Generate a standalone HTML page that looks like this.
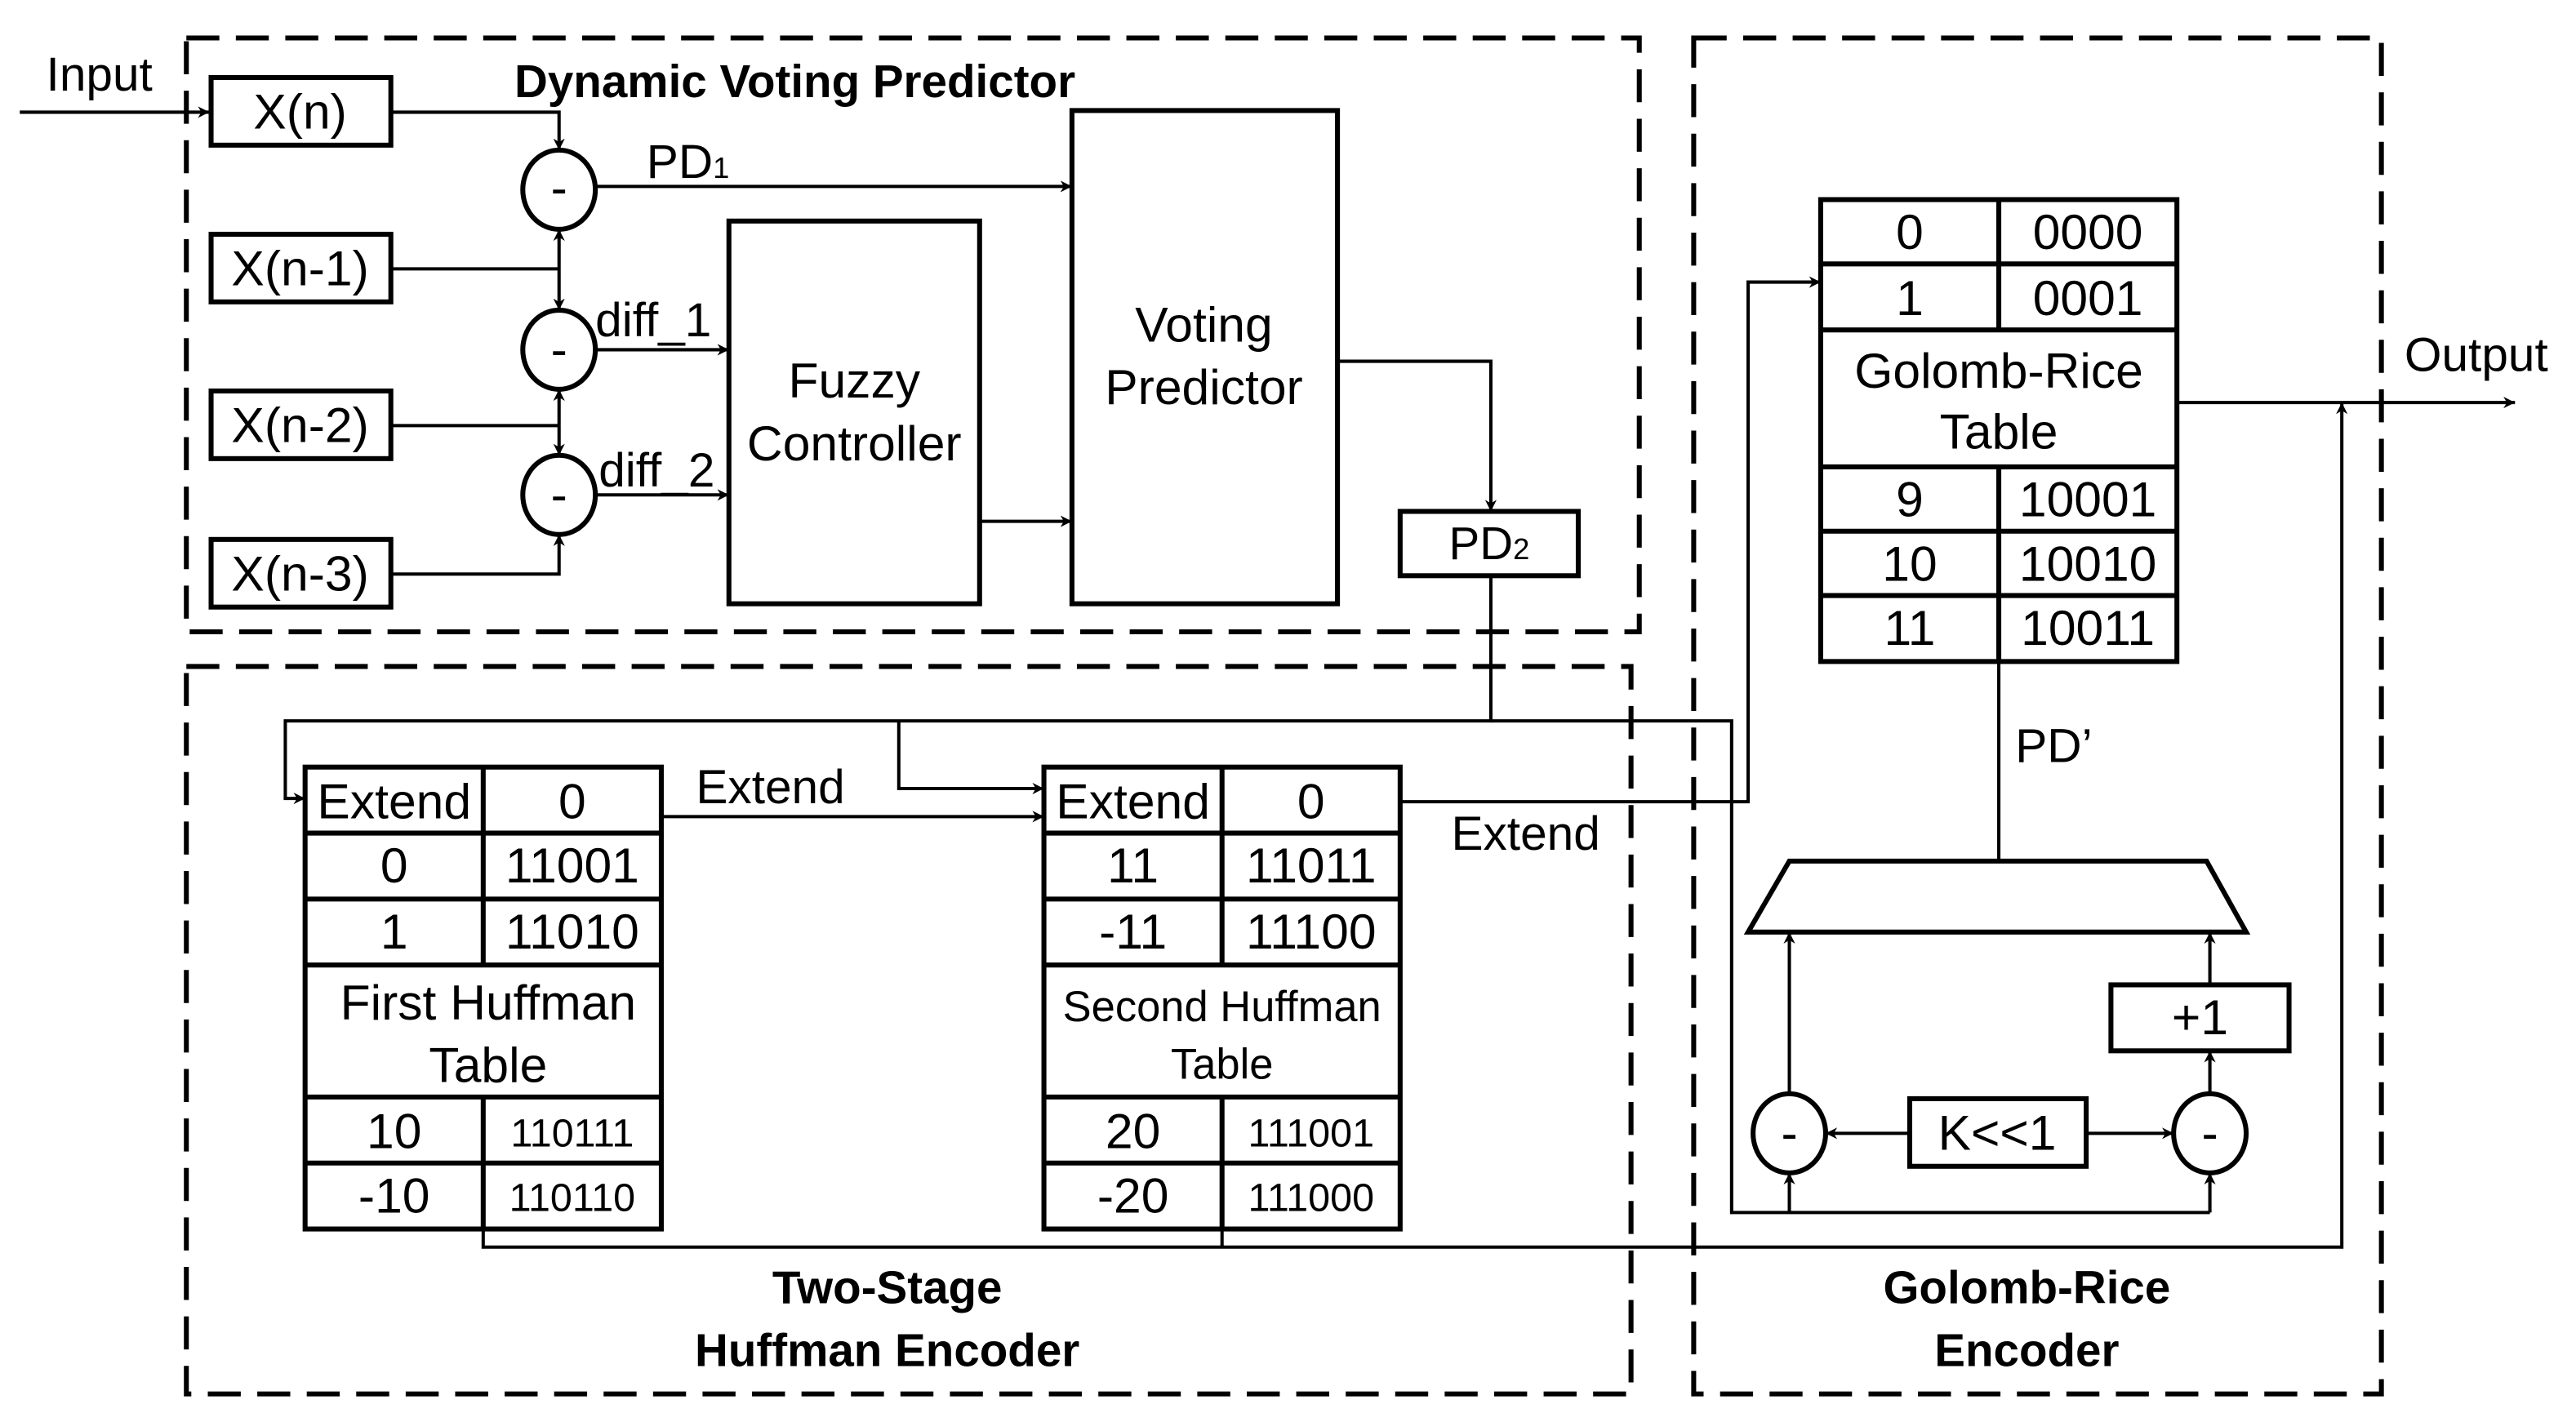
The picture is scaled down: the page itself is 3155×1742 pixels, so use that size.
<!DOCTYPE html>
<html><head><meta charset="utf-8"><style>
html,body{margin:0;padding:0;background:#fff;}
svg{display:block;}
text{font-family:"Liberation Sans",Arial,sans-serif;fill:#000;}
</style></head><body>
<svg width="3155" height="1742" viewBox="0 0 1562 862" preserveAspectRatio="none" xmlns="http://www.w3.org/2000/svg">
<defs>
<marker id="a" viewBox="0 0 10 10" refX="10" refY="5" markerWidth="7" markerHeight="7" markerUnits="userSpaceOnUse" orient="auto"><path d="M0,0 L10,5 L0,10 L3,5 z" fill="#000"/></marker>
</defs>
<!-- dashed regions -->
<g fill="none" stroke="#000" stroke-width="3" stroke-dasharray="20 10">
<rect x="113" y="23" width="881" height="360"/>
<rect x="113" y="404" width="876" height="441"/>
<rect x="1027" y="23" width="417" height="822"/>
</g>
<g font-size="28" font-weight="bold" text-anchor="middle">
<text x="482" y="59">Dynamic Voting Predictor</text>
<text x="538" y="790">Two-Stage</text>
<text x="538" y="828">Huffman Encoder</text>
<text x="1229" y="790">Golomb-Rice</text>
<text x="1229" y="828">Encoder</text>
</g>
<!-- solid boxes -->
<g fill="none" stroke="#000" stroke-width="3">
<rect x="128" y="47" width="109" height="41"/>
<rect x="128" y="142" width="109" height="41"/>
<rect x="128" y="237" width="109" height="41"/>
<rect x="128" y="327" width="109" height="41"/>
<rect x="442" y="134" width="152" height="232"/>
<rect x="650" y="67" width="161" height="299"/>
<rect x="849" y="310" width="108" height="39"/>
<ellipse cx="339" cy="115" rx="22" ry="24"/>
<ellipse cx="339" cy="212" rx="22" ry="24"/>
<ellipse cx="339" cy="300" rx="22" ry="24"/>
<rect x="185" y="465" width="216" height="280"/>
<line x1="185" y1="505" x2="401" y2="505"/><line x1="185" y1="545" x2="401" y2="545"/>
<line x1="185" y1="585" x2="401" y2="585"/><line x1="185" y1="665" x2="401" y2="665"/>
<line x1="185" y1="705" x2="401" y2="705"/>
<line x1="293" y1="465" x2="293" y2="585"/><line x1="293" y1="665" x2="293" y2="745"/>
<rect x="633" y="465" width="216" height="280"/>
<line x1="633" y1="505" x2="849" y2="505"/><line x1="633" y1="545" x2="849" y2="545"/>
<line x1="633" y1="585" x2="849" y2="585"/><line x1="633" y1="665" x2="849" y2="665"/>
<line x1="633" y1="705" x2="849" y2="705"/>
<line x1="741" y1="465" x2="741" y2="585"/><line x1="741" y1="665" x2="741" y2="745"/>
<rect x="1104" y="121" width="216" height="280"/>
<line x1="1104" y1="160" x2="1320" y2="160"/><line x1="1104" y1="200" x2="1320" y2="200"/>
<line x1="1104" y1="283" x2="1320" y2="283"/><line x1="1104" y1="322" x2="1320" y2="322"/>
<line x1="1104" y1="361" x2="1320" y2="361"/>
<line x1="1212" y1="121" x2="1212" y2="200"/><line x1="1212" y1="283" x2="1212" y2="401"/>
<polygon points="1085,522 1338,522 1362,565 1060,565"/>
<ellipse cx="1085" cy="687" rx="22" ry="24"/>
<ellipse cx="1340" cy="687" rx="22" ry="24"/>
<rect x="1158" y="666" width="107" height="41"/>
<rect x="1280" y="597" width="108" height="40"/>
</g>
<!-- connectors -->
<g fill="none" stroke="#000" stroke-width="2">
<line x1="12" y1="68" x2="127" y2="68" marker-end="url(#a)"/>
<polyline points="237,68 339,68 339,91" marker-end="url(#a)"/>
<line x1="361" y1="113" x2="650" y2="113" marker-end="url(#a)"/>
<line x1="237" y1="163" x2="339" y2="163"/>
<line x1="339" y1="163" x2="339" y2="139" marker-end="url(#a)"/>
<line x1="339" y1="163" x2="339" y2="188" marker-end="url(#a)"/>
<line x1="361" y1="212" x2="442" y2="212" marker-end="url(#a)"/>
<line x1="237" y1="258" x2="339" y2="258"/>
<line x1="339" y1="258" x2="339" y2="236" marker-end="url(#a)"/>
<line x1="339" y1="258" x2="339" y2="276" marker-end="url(#a)"/>
<line x1="361" y1="300" x2="442" y2="300" marker-end="url(#a)"/>
<polyline points="237,348 339,348 339,324" marker-end="url(#a)"/>
<line x1="594" y1="316" x2="650" y2="316" marker-end="url(#a)"/>
<polyline points="811,219 904,219 904,310" marker-end="url(#a)"/>
<polyline points="904,349 904,437 173,437 173,484 185,484" marker-end="url(#a)"/>
<polyline points="545,437 545,478 633,478" marker-end="url(#a)"/>
<polyline points="904,437 1050,437 1050,735 1340,735"/>
<line x1="401" y1="495" x2="633" y2="495" marker-end="url(#a)"/>
<polyline points="849,486 1060,486 1060,171 1104,171" marker-end="url(#a)"/>
<polyline points="293,745 293,756 1420,756 1420,244" marker-end="url(#a)"/>
<line x1="741" y1="745" x2="741" y2="756"/>
<line x1="1320" y1="244" x2="1525" y2="244" marker-end="url(#a)"/>
<line x1="1212" y1="522" x2="1212" y2="401"/>
<line x1="1085" y1="735" x2="1085" y2="711" marker-end="url(#a)"/>
<line x1="1340" y1="735" x2="1340" y2="711" marker-end="url(#a)"/>
<line x1="1158" y1="687" x2="1107" y2="687" marker-end="url(#a)"/>
<line x1="1265" y1="687" x2="1318" y2="687" marker-end="url(#a)"/>
<line x1="1085" y1="663" x2="1085" y2="565" marker-end="url(#a)"/>
<line x1="1340" y1="663" x2="1340" y2="637" marker-end="url(#a)"/>
<line x1="1340" y1="597" x2="1340" y2="565" marker-end="url(#a)"/>
</g>
<g font-size="29">
<text x="28" y="55">Input</text>
<text x="1458" y="225">Output</text>
<text x="392" y="108">PD<tspan font-size="18">1</tspan></text>
<text x="361" y="204">diff_1</text>
<text x="363" y="295">diff_2</text>
<text x="422" y="487">Extend</text>
<text x="880" y="515">Extend</text>
<text x="1222" y="462">PD’</text>
</g>
<g font-size="30" text-anchor="middle">
<text x="182" y="78">X(n)</text>
<text x="182" y="173">X(n-1)</text>
<text x="182" y="268">X(n-2)</text>
<text x="182" y="358">X(n-3)</text>
<text x="518" y="241">Fuzzy</text>
<text x="518" y="279">Controller</text>
<text x="730" y="207">Voting</text>
<text x="730" y="245">Predictor</text>
<text x="903" y="339" font-size="28">PD<tspan font-size="18">2</tspan></text>
<text x="1334" y="627">+1</text>
<text x="1211" y="697">K&lt;&lt;1</text>
<text x="1085" y="697">-</text>
<text x="1340" y="697">-</text>
<text x="339" y="124">-</text>
<text x="339" y="222">-</text>
<text x="339" y="310">-</text>
</g>
<g font-size="30" text-anchor="middle">
<text x="239" y="496">Extend</text><text x="347" y="496">0</text>
<text x="239" y="535">0</text><text x="347" y="535">11001</text>
<text x="239" y="575">1</text><text x="347" y="575">11010</text>
<text x="296" y="618">First Huffman</text><text x="296" y="656">Table</text>
<text x="239" y="696">10</text><text x="347" y="695" font-size="24">110111</text>
<text x="239" y="735">-10</text><text x="347" y="734" font-size="24">110110</text>
<text x="687" y="496">Extend</text><text x="795" y="496">0</text>
<text x="687" y="535">11</text><text x="795" y="535">11011</text>
<text x="687" y="575">-11</text><text x="795" y="575">11100</text>
<text x="741" y="619" font-size="26">Second Huffman</text><text x="741" y="654" font-size="26">Table</text>
<text x="687" y="696">20</text><text x="795" y="695" font-size="24">111001</text>
<text x="687" y="735">-20</text><text x="795" y="734" font-size="24">111000</text>
<text x="1158" y="151">0</text><text x="1266" y="151">0000</text>
<text x="1158" y="191">1</text><text x="1266" y="191">0001</text>
<text x="1212" y="235">Golomb-Rice</text><text x="1212" y="272">Table</text>
<text x="1158" y="313">9</text><text x="1266" y="313">10001</text>
<text x="1158" y="352">10</text><text x="1266" y="352">10010</text>
<text x="1158" y="391">11</text><text x="1266" y="391">10011</text>
</g>
</svg>
</body></html>
